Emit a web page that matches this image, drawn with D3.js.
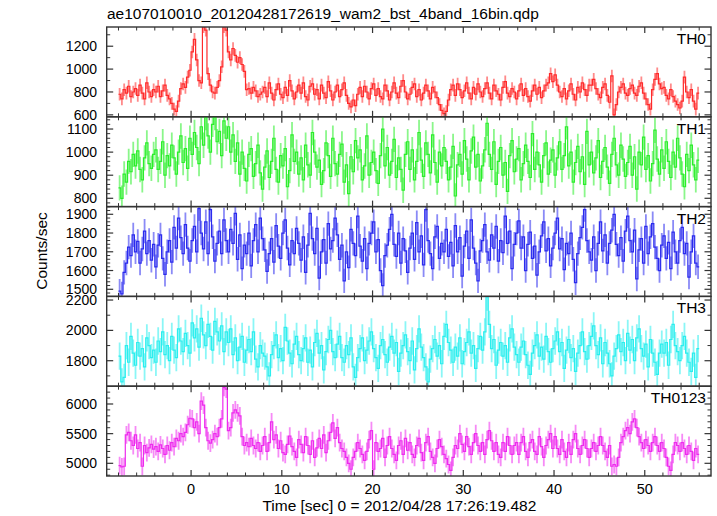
<!DOCTYPE html>
<html><head><meta charset="utf-8">
<script src="https://cdn.jsdelivr.net/npm/d3@7"></script>
<style>body{margin:0;background:#fff}svg{display:block}text{font-family:"Liberation Sans",Arial,sans-serif;fill:#000}</style>
</head><body>
<script>
// ---- data ----
const title = "ae107010010_20120428172619_wam2_bst_4band_16bin.qdp";
const xLabel = "Time [sec] 0 = 2012/04/28 17:26:19.482";
const yLabel = "Counts/sec";
const binStart = -8.0, binWidth = 0.25;
const panelNames = ["TH0","TH1","TH2","TH3","TH0123"];
const th0 = [
780,740,820,790,850,760,800,830,770,860,790,740,880,800,760,820,
800,850,760,810,860,770,740,700,650,630,720,830,870,840,930,990,
1150,1260,1080,900,880,1370,1340,960,860,800,790,840,900,1020,1370,1340,
1150,1080,1180,1120,1060,1100,1040,980,820,830,790,840,810,760,780,800,
840,760,880,790,730,820,870,780,750,840,770,900,810,740,800,860,
790,880,760,730,850,870,780,820,740,860,790,750,890,810,730,800,
860,760,820,880,770,700,670,730,680,780,840,760,850,800,740,830,
870,770,830,760,740,860,810,730,800,880,790,750,850,900,800,740,
780,840,870,760,820,730,790,860,810,740,840,800,750,690,640,610,
630,730,820,860,770,870,820,750,810,880,790,740,840,780,870,800,
760,830,880,790,740,860,810,780,730,840,890,790,760,830,800,740,
810,870,770,830,760,720,810,860,780,840,750,810,860,880,960,890,
950,860,800,760,830,740,810,870,780,730,840,800,880,820,770,860,
860,910,830,780,750,840,870,770,710,940,600,690,800,840,870,790,
770,830,860,790,770,850,880,790,740,690,650,820,910,960,870,830,
840,770,740,820,760,720,690,660,720,930,800,750,820,720,650,790];
const th1 = [
845,800,905,870,960,915,990,940,1005,925,880,975,1040,950,930,990,
1010,925,960,1045,900,985,940,1030,975,905,1000,1070,955,1015,930,1060,
990,1085,1020,950,1110,1030,1150,1070,1000,1120,1150,1045,1090,985,1135,1060,
1110,1000,1075,960,1040,905,1000,930,875,990,1015,895,950,1030,910,840,
935,1005,890,960,1060,925,870,985,940,1015,850,920,1075,960,1000,905,
975,880,1030,945,900,1085,1000,935,965,860,920,1040,985,895,1060,950,
905,990,1035,870,945,820,980,915,1050,975,1010,880,940,1070,900,955,
1000,920,865,985,1100,940,1020,900,960,1055,890,975,925,835,990,1045,
925,1010,880,960,1085,965,895,1040,990,910,1075,955,870,1000,940,1020,
960,880,935,1025,810,945,990,905,1050,970,880,1005,1065,935,990,875,
940,1010,1125,990,925,1045,860,960,1020,900,955,830,985,1050,915,970,
1015,880,950,1030,960,890,1080,925,1000,945,870,985,1040,905,965,1010,
900,975,1045,925,985,1110,940,1000,870,955,1025,915,980,860,1090,945,
1000,910,975,1050,890,960,1020,935,865,990,1060,945,900,1030,970,895,
955,1025,900,980,840,1000,945,1065,925,985,875,950,1095,970,905,1010,
930,1045,960,890,1000,935,1060,975,905,850,990,920,1030,945,880,965];
const th2 = [
1490,1475,1590,1640,1725,1680,1790,1700,1755,1640,1715,1810,1690,1760,1655,1740,
1620,1735,1790,1665,1580,1700,1760,1645,1830,1720,1880,1775,1690,1845,1720,1650,
1760,1835,1700,1930,1800,1715,1860,1690,1925,1780,1650,1745,1810,1690,1870,1760,
1700,1820,1745,1905,1660,1790,1610,1735,1690,1800,1625,1760,1845,1700,1880,1770,
1710,1595,1690,1770,1645,1840,1730,1665,1800,1870,1720,1630,1760,1690,1825,1745,
1655,1780,1590,1735,1905,1770,1690,1825,1560,1700,1765,1640,1850,1715,1760,1880,
1790,1660,1735,1545,1700,1615,1820,1745,1680,1890,1730,1650,1770,1610,1745,1800,
1860,1700,1765,1600,1520,1680,1735,1820,1900,1740,1675,1800,1640,1770,1705,1590,
1720,1800,1660,1855,1700,1785,1630,1925,1760,1690,1610,1780,1835,1665,1745,1700,
1820,1675,1750,1625,1840,1700,1775,1570,1730,1810,1665,1870,1720,1640,1545,1705,
1760,1845,1700,1655,1790,1720,1835,1650,1760,1695,1890,1745,1810,1610,1740,1800,
1865,1720,1780,1600,1740,1805,1665,1730,1575,1700,1785,1860,1705,1770,1625,1720,
1800,1880,1715,1770,1605,1745,1690,1800,1660,1535,1690,1775,1830,1925,1760,1700,
1655,1780,1600,1745,1860,1705,1790,1640,1745,1815,1900,1740,1680,1775,1650,1810,
1890,1760,1700,1815,1555,1710,1770,1640,1835,1690,1780,1850,1725,1665,1600,1735,
1785,1665,1750,1610,1805,1700,1640,1760,1830,1690,1745,1565,1700,1785,1640,1620];
const th3 = [
1830,1660,1690,1900,1790,1960,1850,1770,1920,1830,1880,1760,1950,1900,1820,1870,
1790,1930,1860,1990,1840,1900,1800,1960,1870,1820,2010,1930,1860,1980,1900,1850,
2050,1950,2010,1890,2080,1970,1900,2040,1960,1870,2060,1990,1930,2030,1860,1990,
1920,2010,1840,1950,1800,1890,1960,1790,1870,1940,1860,1990,1810,1760,1900,1850,
1830,1760,1700,1840,1900,1970,1820,1880,1800,2020,1930,1850,1780,1910,1960,1840,
1800,1880,1950,1790,1870,1760,1920,1980,1850,1900,1740,1860,1940,2000,1860,1820,
1910,1960,1820,1790,1900,1840,1950,1760,1690,1820,1880,1950,1800,1870,1930,1990,
1880,1820,1750,1900,1940,1840,1790,1890,1960,1850,1920,1730,1850,1900,1970,1860,
1800,1930,1740,1880,2010,1890,1820,1760,1660,1810,1880,1940,1830,1900,1780,1960,
2040,1920,1870,1790,1890,1830,1950,1780,1860,1920,1990,1850,1900,1750,1880,1960,
1870,1990,2220,2040,1880,1940,1770,1870,1920,1830,1900,1790,1950,2010,1890,1840,
1790,1890,1930,1840,1770,1710,1850,1900,1970,1830,1890,1810,1960,1860,1790,1880,
1930,1990,1860,1920,1750,1870,1940,1820,1880,1730,1850,1900,1990,1860,1810,1900,
1960,2030,1900,1840,1950,1780,1920,1850,1780,1700,1830,1880,1970,1860,1920,1800,
1980,1870,1940,1800,1950,2010,1880,1830,1910,1760,1940,1850,1790,1710,1850,1910,
1850,1920,1770,1940,2040,1900,1860,1800,1900,1960,1850,1790,1730,1850,1690,1880];
const th0123 = [
4960,4940,4950,5480,5520,5380,5300,5480,5250,5350,4950,5300,5180,5260,5320,5240,
5280,5200,5310,5250,5150,5300,5220,5350,5280,5420,5380,5500,5450,5520,5650,5760,
5750,5600,5700,5500,6050,5980,5600,5380,5340,5400,5500,5450,5600,5750,6280,6250,
5550,5600,5850,5900,5850,5800,5450,5300,5350,5280,5420,5300,5250,5350,5200,5300,
5450,5200,5350,5700,5400,5480,5250,5380,5180,5150,5320,5460,5280,5200,5100,5400,
5320,5180,5450,5300,5150,5380,5100,5260,5420,5250,5480,5180,5380,5520,5680,5420,
5600,5350,5250,5200,5100,5000,4900,5100,5200,5350,5250,5150,5050,5200,5400,5550,
4900,5350,5200,5250,5420,5100,5300,5450,5250,5150,5050,5300,5380,5150,5420,5220,
5350,5150,5100,5300,5420,5180,5050,5350,5450,5200,5100,5000,5250,5400,5280,5150,
5080,4980,4880,5100,5300,5250,5500,5320,5200,5450,5280,5150,5350,5500,5300,5200,
5350,5150,5400,5550,5380,5200,5350,5150,5100,5350,5200,5450,5300,5150,5300,5350,
5150,5350,5450,5200,5100,5350,5400,5200,5150,5450,5280,5100,5300,5400,5500,5250,
5450,5250,5150,5400,5200,5100,5350,5150,5400,5500,5250,5150,5300,5400,5250,5100,
5250,5350,5200,5300,5450,5300,5200,5100,5300,4950,4980,4950,5100,5350,5450,5550,
5600,5500,5700,5750,5600,5450,5350,5250,5400,5300,5200,5350,5450,5300,5200,5350,
5250,5100,4950,4880,5150,5350,5300,5200,5350,5250,5150,5300,5200,5050,5250,5150];
const seriesValues = [th0, th1, th2, th3, th0123];
const seriesErrors = [55, 55, 65, 90, 150];
const yDomains = [[583,1368],[764,1153],[1462,1941],[1632,2224],[4786,6300]];
const yTickLabels = [[600,800,1000,1200],[800,900,1000,1100],[1500,1600,1700,1800,1900],[1800,2000,2200],[5000,5500,6000]];
const yMinorStep = [100,20,20,100,100];
const xDomain = [-9.3, 57.3];
const xTickLabels = [0,10,20,30,40,50];
const xMinorStep = 2;

// ---- styles / layout ----
const colors = ["#ff2a2a","#2aee2a","#2a2aee","#2aeeee","#ee2aee"];
const W = 717, H = 516;
const L = 106.7, R = 711, T = 27, B = 476;
const ph = (B - T) / 5;

const svg = d3.select("body").append("svg").attr("width", W).attr("height", H);
const x = d3.scaleLinear().domain(xDomain).range([L, R]);

svg.append("text").attr("x", 107).attr("y", 19).attr("font-size", 15.5).text(title);

const majorX = xTickLabels;
const minorX = d3.range(Math.ceil(xDomain[0]/xMinorStep)*xMinorStep, xDomain[1], xMinorStep).filter(v => !majorX.includes(v));

seriesValues.forEach((vals, p) => {
  const top = T + p * ph, bot = top + ph;
  const y = d3.scaleLinear().domain(yDomains[p]).range([bot, top]);
  const g = svg.append("g");
  const cid = "clip" + p;
  svg.append("clipPath").attr("id", cid).append("rect").attr("x", L).attr("y", top).attr("width", R - L).attr("height", ph);
  const data = vals.map((v, i) => ({t0: binStart + i*binWidth, t1: binStart + (i+1)*binWidth, v}));
  const dg = g.append("g").attr("clip-path", `url(#${cid})`);
  dg.selectAll("line.err").data(data).enter().append("line")
    .attr("x1", d => x((d.t0 + d.t1)/2)).attr("x2", d => x((d.t0 + d.t1)/2))
    .attr("y1", d => y(d.v - seriesErrors[p])).attr("y2", d => y(d.v + seriesErrors[p]))
    .attr("stroke", colors[p]).attr("stroke-width", 1.8).attr("stroke-opacity", 0.55);
  const pts = data.map(d => [d.t0, d.v]).concat([[data[data.length-1].t1, data[data.length-1].v]]);
  dg.append("path").attr("d", d3.line().x(d => x(d[0])).y(d => y(d[1])).curve(d3.curveStepAfter)(pts))
    .attr("fill", "none").attr("stroke", colors[p]).attr("stroke-width", 1.2);

  const ax = g.append("g").attr("stroke", "#333").attr("fill", "none");
  ax.append("rect").attr("x", L).attr("y", top).attr("width", R - L).attr("height", ph).attr("stroke-width", 1.4);
  majorX.forEach(v => {
    ax.append("line").attr("x1", x(v)).attr("x2", x(v)).attr("y1", bot).attr("y2", bot - 6).attr("stroke-width", 1.2);
    ax.append("line").attr("x1", x(v)).attr("x2", x(v)).attr("y1", top).attr("y2", top + 6).attr("stroke-width", 1.2);
  });
  minorX.forEach(v => {
    ax.append("line").attr("x1", x(v)).attr("x2", x(v)).attr("y1", bot).attr("y2", bot - 3.5).attr("stroke-width", 1);
    ax.append("line").attr("x1", x(v)).attr("x2", x(v)).attr("y1", top).attr("y2", top + 3.5).attr("stroke-width", 1);
  });
  const ms = yMinorStep[p];
  const minorY = d3.range(Math.ceil(yDomains[p][0]/ms)*ms, yDomains[p][1], ms).filter(v => !yTickLabels[p].includes(v));
  yTickLabels[p].forEach(v => {
    ax.append("line").attr("x1", L).attr("x2", L + 6.5).attr("y1", y(v)).attr("y2", y(v)).attr("stroke-width", 1.2);
    ax.append("line").attr("x1", R).attr("x2", R - 6.5).attr("y1", y(v)).attr("y2", y(v)).attr("stroke-width", 1.2);
    g.append("text").attr("x", 97).attr("y", y(v)).attr("dy", "0.36em").attr("text-anchor", "end")
      .attr("font-size", 14).text(v);
  });
  minorY.forEach(v => {
    ax.append("line").attr("x1", L).attr("x2", L + 3.5).attr("y1", y(v)).attr("y2", y(v)).attr("stroke-width", 1);
    ax.append("line").attr("x1", R).attr("x2", R - 3.5).attr("y1", y(v)).attr("y2", y(v)).attr("stroke-width", 1);
  });
  g.append("text").attr("x", 706).attr("y", top + 17).attr("text-anchor", "end").attr("font-size", 15.5).text(panelNames[p]);
});

xTickLabels.forEach(v => {
  svg.append("text").attr("x", x(v)).attr("y", 494).attr("text-anchor", "middle").attr("font-size", 14.5).text(v);
});
svg.append("text").attr("x", (262.7 + 536) / 2).attr("y", 511).attr("text-anchor", "middle").attr("font-size", 15.5).text(xLabel);
svg.append("text").attr("transform", "translate(47,251) rotate(-90)").attr("text-anchor", "middle").attr("font-size", 15.5).text(yLabel);
</script>
</body></html>
